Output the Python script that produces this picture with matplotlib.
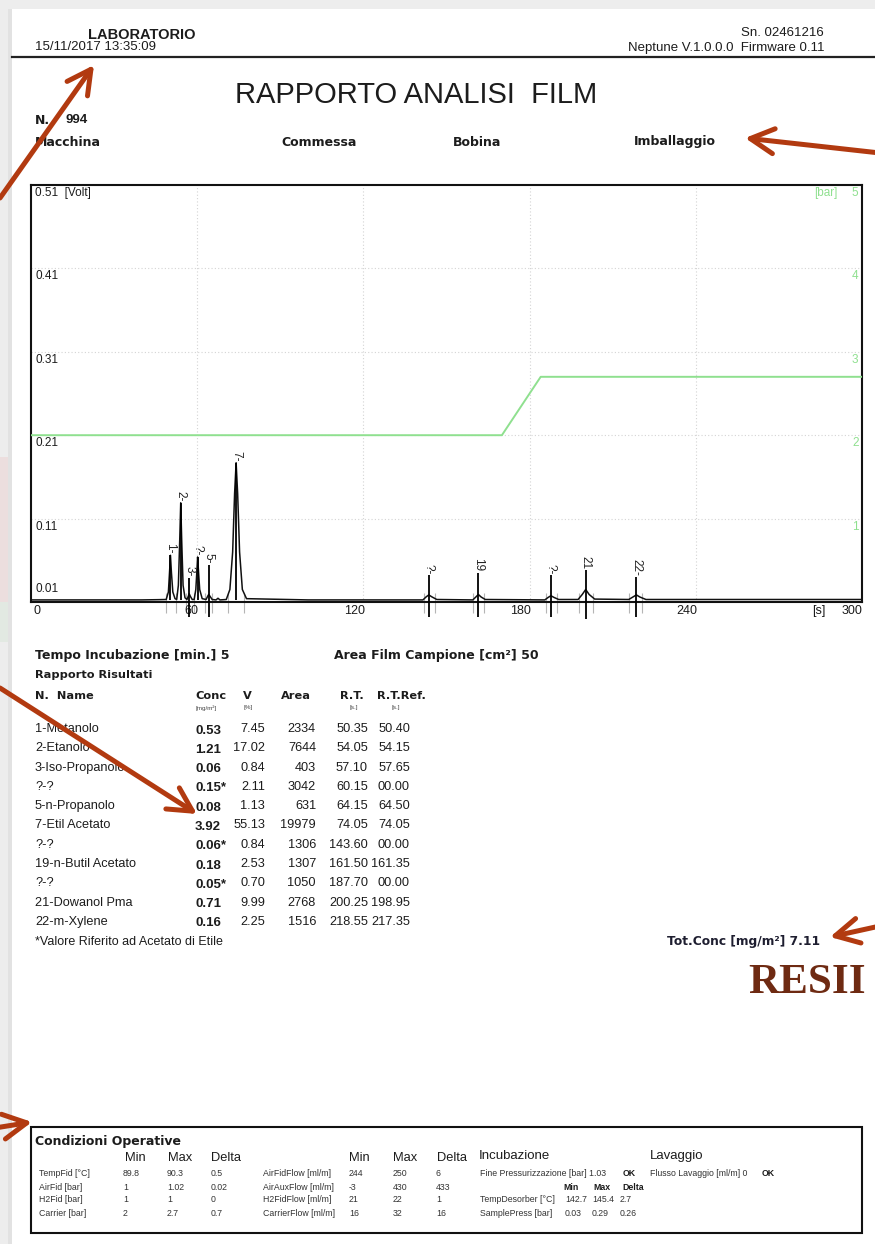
import matplotlib
matplotlib.use('Agg')
import matplotlib.pyplot as plt
from matplotlib.patches import Rectangle, FancyArrowPatch

W, H, DPI = 875, 1244, 100

# ---------------- data ----------------
# chromatogram trace (time [s], signal [V])
trace_t = [0, 20, 40, 46, 48.8, 49.6, 50.0, 50.35, 50.7, 51.2, 52.0,
           52.6, 53.2, 53.7, 54.05, 54.4, 54.9, 55.6,
           56.3, 56.8, 57.1, 57.5, 58.2,
           58.9, 59.5, 59.9, 60.15, 60.45, 60.9, 61.8,
           63.2, 63.8, 64.15, 64.6, 65.4, 66.8, 67.5, 68.2,
           70.5, 71.8, 72.8, 73.5, 74.05, 74.6, 75.3, 76.3, 77.8,
           100, 141.5, 142.6, 143.6, 144.8, 146.5,
           159.5, 160.6, 161.5, 162.5, 164.0,
           185.5, 186.7, 187.7, 188.8, 190.5,
           197.5, 199.0, 200.25, 201.5, 203.5,
           215.8, 217.3, 218.55, 219.8, 222.0, 260, 300]
trace_v = [0.0125, 0.0125, 0.0125, 0.0128, 0.013, 0.022, 0.045, 0.066, 0.045, 0.022, 0.014,
           0.013, 0.030, 0.085, 0.129, 0.085, 0.030, 0.015,
           0.013, 0.017, 0.020, 0.017, 0.013,
           0.013, 0.025, 0.048, 0.064, 0.048, 0.025, 0.014,
           0.013, 0.017, 0.019, 0.017, 0.013, 0.0125, 0.0145, 0.0125,
           0.013, 0.025, 0.070, 0.140, 0.177, 0.140, 0.070, 0.025, 0.014,
           0.0125, 0.0125, 0.016, 0.0185, 0.016, 0.013,
           0.0125, 0.016, 0.019, 0.016, 0.013,
           0.0125, 0.0155, 0.0175, 0.0155, 0.013,
           0.013, 0.019, 0.025, 0.019, 0.0135,
           0.013, 0.016, 0.0185, 0.016, 0.013, 0.013, 0.013]

# pressure trace [bar]
press_t = [0, 170, 184, 300]
press_bar = [2.0, 2.0, 2.7, 2.7]

# identified peaks
peak_labels = ["1-", "2-", "3-", "?-", "5-", "7-", "?-", "19", "?-", "21", "22-"]
peak_rt = [50.35, 54.05, 57.10, 60.15, 64.15, 74.05, 143.60, 161.50, 187.70, 200.25, 218.55]
marker_top = [0.066, 0.129, 0.039, 0.064, 0.054, 0.177, 0.042, 0.045, 0.042, 0.048, 0.040]
marker_bottom = [0.012, 0.012, -0.008, 0.012, -0.008, 0.012, -0.008, -0.008, -0.008, -0.010, -0.008]
peak_bounds = [48.8, 52.5, 56.0, 58.8, 62.8, 65.5, 71.0, 77.0, 141.8, 146.0,
               159.6, 163.4, 185.8, 190.0, 198.0, 203.0, 215.8, 220.5]

volt_ticks = [0.51, 0.41, 0.31, 0.21, 0.11, 0.01]
bar_ticks = [5, 4, 3, 2, 1]
time_ticks = [0, 60, 120, 180, 240, 300]

# results table
names = ["1-Metanolo", "2-Etanolo", "3-Iso-Propanolo", "?-?", "5-n-Propanolo",
         "7-Etil Acetato", "?-?", "19-n-Butil Acetato", "?-?", "21-Dowanol Pma", "22-m-Xylene"]
conc = [0.53, 1.21, 0.06, 0.15, 0.08, 3.92, 0.06, 0.18, 0.05, 0.71, 0.16]
conc_ref = [False, False, False, True, False, False, True, False, True, False, False]
vperc = [7.45, 17.02, 0.84, 2.11, 1.13, 55.13, 0.84, 2.53, 0.70, 9.99, 2.25]
area = [2334, 7644, 403, 3042, 631, 19979, 1306, 1307, 1050, 2768, 1516]
rt = [50.35, 54.05, 57.10, 60.15, 64.15, 74.05, 143.60, 161.50, 187.70, 200.25, 218.55]
rtref = [50.40, 54.15, 57.65, 0.0, 64.50, 74.05, 0.0, 161.35, 0.0, 198.95, 217.35]
tot_conc = 7.11

# operating conditions
cond_lab1 = ["TempFid [°C]", "AirFid [bar]", "H2Fid [bar]", "Carrier [bar]"]
cond_min1 = ["89.8", "1", "1", "2"]
cond_max1 = ["90.3", "1.02", "1", "2.7"]
cond_del1 = ["0.5", "0.02", "0", "0.7"]
cond_lab2 = ["AirFidFlow [ml/m]", "AirAuxFlow [ml/m]", "H2FidFlow [ml/m]", "CarrierFlow [ml/m]"]
cond_min2 = ["244", "-3", "21", "16"]
cond_max2 = ["250", "430", "22", "32"]
cond_del2 = ["6", "433", "1", "16"]
inc_lab = ["TempDesorber [°C]", "SamplePress [bar]"]
inc_min = ["142.7", "0.03"]
inc_max = ["145.4", "0.29"]
inc_del = ["2.7", "0.26"]

# ---------------- styles ----------------
REG = 'Liberation Sans'
BOLD = 'DejaVu Sans'
TXT = '#1c1c1c'
GREEN = '#8fe08f'
ARROW = '#b23a10'

fig = plt.figure(figsize=(W / DPI, H / DPI), dpi=DPI)
fig.patch.set_facecolor('#ededed')

bg = fig.add_axes([0, 0, 1, 1])
bg.set_xlim(0, W)
bg.set_ylim(H, 0)
bg.axis('off')
bg.add_patch(Rectangle((12, 9), W - 12, H - 9, facecolor='white', edgecolor='none', zorder=0))
bg.add_patch(Rectangle((8, 9), 4, H - 9, facecolor='#e2e2e2', edgecolor='none', zorder=0))
bg.add_patch(Rectangle((0, 457), 8, 145, facecolor='#ecdede', edgecolor='none', zorder=0))
bg.add_patch(Rectangle((0, 602), 8, 40, facecolor='#e2e9e2', edgecolor='none', zorder=0))


def t(x, y, s, size=9, family=REG, weight='normal', ha='left', va='center', color=TXT, **kw):
    bg.text(x, y, s, fontsize=size, family=family, fontweight=weight, ha=ha, va=va,
            color=color, **kw)


# header
t(88, 35, "LABORATORIO", size=10.5, weight='bold')
t(35, 47, "15/11/2017 13:35:09", size=9.5)
t(824, 33, "Sn. 02461216", size=9.5, ha='right')
t(824, 48, "Neptune V.1.0.0.0  Firmware 0.11", size=9.5, ha='right')
bg.plot([12, W], [57, 57], color='#222222', lw=1.6)
t(416, 95, "RAPPORTO ANALISI  FILM", size=21, ha='center')
t(35, 120, "N.", size=9, family=BOLD, weight='bold')
t(66, 120, "994", size=9.5, weight='bold')
for x, s in zip([35, 281, 453, 634], ["Macchina", "Commessa", "Bobina", "Imballaggio"]):
    t(x, 142, s, size=9, family=BOLD, weight='bold')

# ---------------- chromatogram ----------------
ax = fig.add_axes([31 / W, 1 - 602 / H, 831 / W, 417 / H])
ax.set_xlim(0, 300)
ax.set_ylim(0.01, 0.51)
ax.set_xticks([])
ax.set_yticks([])
for sp in ax.spines.values():
    sp.set_linewidth(1.5)
    sp.set_color('#111111')
for tt in time_ticks[1:-1]:
    ax.axvline(tt, color='#d4d4d4', lw=0.8, ls=(0, (1, 2)), zorder=0)
for v in volt_ticks[1:-1]:
    ax.axhline(v, color='#d4d4d4', lw=0.8, ls=(0, (1, 2)), zorder=0)

ax2 = ax.twinx()
ax2.set_ylim(0, 5)
ax2.set_yticks([])
for sp in ax2.spines.values():
    sp.set_visible(False)
ax2.plot(press_t, press_bar, color=GREEN, lw=1.4, zorder=1)

ax.vlines(peak_bounds, -0.003, 0.021, colors='#b5b5b5', lw=0.8, clip_on=False, zorder=2)
ax.plot(trace_t, trace_v, color='#111111', lw=1.1, zorder=3)
ax.vlines(peak_rt, marker_bottom, marker_top, colors='black', lw=1.3, clip_on=False, zorder=4)
for lbl, x, top in zip(peak_labels, peak_rt, marker_top):
    ax.annotate(lbl, xy=(x, top), xytext=(0, 1), textcoords='offset points',
                rotation=-90, ha='center', va='bottom', fontsize=8.5, family=REG, color='#222222')

# left volt labels (inside)
for v in volt_ticks:
    lab = "%.2f" % v + ("  [Volt]" if v == volt_ticks[0] else "")
    if v == volt_ticks[-1]:
        ax.annotate(lab, xy=(0, v), xycoords=('axes fraction', 'data'), xytext=(3, 5),
                    textcoords='offset points', ha='left', va='bottom', fontsize=8.5,
                    family=REG, color=TXT)
    else:
        ax.annotate(lab, xy=(0, v), xycoords=('axes fraction', 'data'), xytext=(3, -1.5),
                    textcoords='offset points', ha='left', va='top', fontsize=8.5,
                    family=REG, color=TXT)
# right bar labels (inside)
for b in bar_ticks:
    ax2.annotate(str(b), xy=(1, b), xycoords=('axes fraction', 'data'), xytext=(-2.5, -1.5),
                 textcoords='offset points', ha='right', va='top', fontsize=8.5,
                 family=REG, color=GREEN)
ax2.annotate("[bar]", xy=(1, bar_ticks[0]), xycoords=('axes fraction', 'data'), xytext=(-17.5, -1.5),
             textcoords='offset points', ha='right', va='top', fontsize=8.5, family=REG, color=GREEN)
# time labels
for tt in time_ticks:
    if tt == 0:
        ha, dx = 'left', 1.5
    elif tt == time_ticks[-1]:
        ha, dx = 'right', 0
    else:
        ha, dx = 'right', 1
    ax.annotate(str(tt), xy=(tt, 0), xycoords=('data', 'axes fraction'), xytext=(dx, -2),
                textcoords='offset points', ha=ha, va='top', fontsize=9, family=REG,
                color=TXT, annotation_clip=False)
ax.annotate("[s]", xy=(1, 0), xycoords='axes fraction', xytext=(-26.5, -2),
            textcoords='offset points', ha='right', va='top', fontsize=9, family=REG, color=TXT)

# ---------------- results ----------------
t(35, 655, "Tempo Incubazione [min.] 5", size=9, family=BOLD, weight='bold')
t(334, 655, "Area Film Campione [cm²] 50", size=9, family=BOLD, weight='bold')
t(35, 675, "Rapporto Risultati", size=8.2, family=BOLD, weight='bold')
t(35, 696, "N.  Name", size=8.2, family=BOLD, weight='bold')
for x, s in zip([195, 243, 281, 340, 377], ["Conc", "V", "Area", "R.T.", "R.T.Ref."]):
    t(x, 696, s, size=8.2, family=BOLD, weight='bold')
for x, s in zip([196, 243, 350, 392], ["[mg/m²]", "[%]", "[s.]", "[s.]"]):
    t(x, 708, s, size=4.5, color='#444444')

row_y0, row_dy = 729, 19.3
for i in range(len(names)):
    y = row_y0 + i * row_dy
    t(35, y, names[i], size=9.2)
    cs = "%.2f" % conc[i] + ("*" if conc_ref[i] else "")
    t(195, y + 1.5, cs, size=9.5, weight='bold')
    t(265, y, "%.2f" % vperc[i], size=9.2, ha='right')
    t(316, y, "%d" % area[i], size=9.2, ha='right')
    t(368, y, "%.2f" % rt[i], size=9.2, ha='right')
    t(410, y, "%05.2f" % rtref[i], size=9.2, ha='right')
t(35, 942, "*Valore Riferito ad Acetato di Etile", size=9)
t(667, 942, "Tot.Conc [mg/m²] %.2f" % tot_conc, size=8.8, family=BOLD, weight='bold',
  color='#1e1e30')
t(748, 983, "RESII", size=31, family='Liberation Serif', weight='bold', color='#6e2a12')

# ---------------- operating conditions box ----------------
bg.add_patch(Rectangle((31, 1127), 831, 106, facecolor='white', edgecolor='#111111', lw=1.5))
t(35, 1141, "Condizioni Operative", size=9, family=BOLD, weight='bold')
for xs in ([125, 168, 211], [349, 393, 437]):
    for x, s in zip(xs, ["Min", "Max", "Delta"]):
        t(x, 1158, s, size=9.3)
t(479, 1156, "Incubazione", size=9.5)
t(650, 1156, "Lavaggio", size=9.5)
rows_y = [1174, 1187, 1200, 1213]
for i, y in enumerate(rows_y):
    t(39, y, cond_lab1[i], size=6.3, color='#333333')
    t(123, y, cond_min1[i], size=6.3, color='#333333')
    t(167, y, cond_max1[i], size=6.3, color='#333333')
    t(211, y, cond_del1[i], size=6.3, color='#333333')
    t(263, y, cond_lab2[i], size=6.3, color='#333333')
    t(349, y, cond_min2[i], size=6.3, color='#333333')
    t(393, y, cond_max2[i], size=6.3, color='#333333')
    t(436, y, cond_del2[i], size=6.3, color='#333333')
t(480, rows_y[0], "Fine Pressurizzazione [bar] 1.03", size=6.3, color='#333333')
t(623, rows_y[0], "OK", size=6.3, weight='bold')
t(650, rows_y[0], "Flusso Lavaggio [ml/m] 0", size=6.3, color='#333333')
t(762, rows_y[0], "OK", size=6.3, weight='bold')
for x, s in zip([563, 593, 622], ["Min", "Max", "Delta"]):
    t(x, rows_y[1], s, size=6.3, weight='bold')
for j in range(2):
    y = rows_y[2 + j]
    t(480, y, inc_lab[j], size=6.3, color='#333333')
    t(565, y, inc_min[j], size=6.3, color='#333333')
    t(592, y, inc_max[j], size=6.3, color='#333333')
    t(620, y, inc_del[j], size=6.3, color='#333333')

# ---------------- arrows ----------------
arrows = [((0, 198), (94, 65)), ((880, 153), (745, 138)), ((0, 688), (197, 814)),
          ((880, 926), (830, 937)), ((-30, 1132), (32, 1122))]
for tail, tip in arrows:
    bg.add_patch(FancyArrowPatch(tail, tip, arrowstyle='->,head_length=0.85,head_width=0.45',
                                 mutation_scale=20, lw=3.6, color=ARROW, capstyle='round',
                                 joinstyle='round', shrinkA=0, shrinkB=0, zorder=10))

fig.savefig('out.png', dpi=DPI, facecolor=fig.get_facecolor())
